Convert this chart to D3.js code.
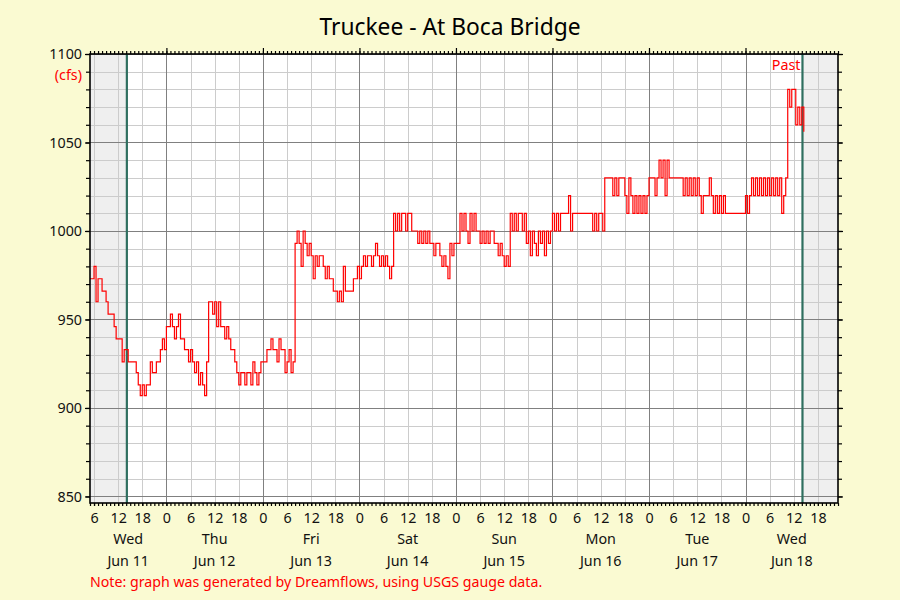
<!DOCTYPE html>
<html><head><meta charset="utf-8">
<script src="https://cdn.jsdelivr.net/npm/d3@7"></script>
<style>
body{margin:0;background:#fafad2;}
svg{display:block;font-family:"Noto Sans",sans-serif;}
</style>
</head><body>
<svg id="chart" width="900" height="600"></svg>
<script>
// ---------- data ----------
const chartTitle = "Truckee - At Boca Bridge";
const unitLabel = "(cfs)";
const noteText = "Note: graph was generated by Dreamflows, using USGS gauge data.";
const pastLabel = "Past";
const axisDomain = ["2025-06-11T05:00:00Z", "2025-06-18T23:00:00Z"];
const pastWindow = ["2025-06-11T14:10:00Z", "2025-06-18T14:10:00Z"];
const seriesStart = "2025-06-11T05:00:00Z";
const stepMinutes = 30;
const yDomain = [846.3, 1100];
const yMajorTicks = [850, 900, 950, 1000, 1050, 1100];
const yMinorStep = 10;
const hourLabelStep = 6;
const flow = [
 973, 973, 980, 960, 973, 973, 966, 966, 960, 953,
 953, 953, 946, 939, 939, 939, 926, 933, 933, 926,
 926, 926, 926, 920, 913, 907, 913, 907, 913, 913,
 926, 920, 920, 926, 926, 933, 939, 933, 946, 946,
 953, 946, 939, 946, 953, 939, 939, 933, 933, 926,
 933, 926, 920, 926, 913, 920, 913, 907, 926, 960,
 960, 953, 960, 946, 960, 946, 946, 939, 946, 939,
 933, 933, 926, 920, 913, 920, 920, 913, 920, 920,
 913, 926, 920, 913, 920, 926, 926, 926, 933, 933,
 939, 933, 933, 926, 939, 933, 933, 920, 926, 933,
 920, 926, 993, 1000, 993, 980, 1000, 993, 986, 993,
 986, 973, 986, 980, 986, 986, 980, 973, 980, 973,
 973, 966, 966, 960, 966, 960, 980, 966, 966, 966,
 966, 973, 973, 980, 973, 980, 986, 980, 986, 986,
 980, 986, 993, 986, 980, 986, 980, 986, 980, 973,
 980, 1010, 1000, 1010, 1000, 1010, 1010, 1000, 1010, 1010,
 1000, 1000, 1000, 993, 1000, 993, 1000, 993, 1000, 993,
 993, 986, 993, 993, 986, 980, 986, 980, 973, 993,
 986, 993, 993, 993, 1010, 1000, 1010, 1000, 993, 1010,
 1000, 1010, 1000, 1000, 993, 1000, 993, 1000, 993, 1000,
 1000, 993, 993, 986, 993, 986, 980, 986, 980, 1010,
 1000, 1010, 1000, 1010, 1010, 1000, 1010, 993, 1000, 986,
 1000, 993, 986, 1000, 993, 1000, 986, 1000, 993, 1000,
 1010, 1000, 1010, 1000, 1010, 1010, 1010, 1010, 1020, 1000,
 1010, 1010, 1010, 1010, 1010, 1010, 1010, 1010, 1010, 1010,
 1000, 1010, 1000, 1010, 1010, 1000, 1030, 1030, 1030, 1030,
 1020, 1030, 1020, 1030, 1030, 1030, 1020, 1010, 1030, 1020,
 1010, 1020, 1010, 1020, 1010, 1020, 1010, 1020, 1030, 1030,
 1030, 1020, 1030, 1040, 1030, 1040, 1020, 1040, 1030, 1030,
 1030, 1030, 1030, 1030, 1030, 1020, 1030, 1020, 1030, 1020,
 1030, 1020, 1030, 1020, 1010, 1020, 1020, 1020, 1030, 1020,
 1010, 1020, 1010, 1020, 1010, 1020, 1010, 1010, 1010, 1010,
 1010, 1010, 1010, 1010, 1010, 1010, 1020, 1010, 1020, 1030,
 1020, 1030, 1020, 1030, 1020, 1030, 1020, 1030, 1020, 1030,
 1020, 1030, 1020, 1030, 1010, 1020, 1030, 1080, 1070, 1080,
 1080, 1060, 1070, 1060, 1070, 1056
];

// ---------- layout ----------
const W = 900, H = 600;
const plot = {left: 90, right: 838, top: 54, bottom: 503};
const svg = d3.select("#chart");
const px = v => Math.round(v) + 0.5;
const FS = 14.3;

const t0 = new Date(seriesStart);
const series = flow.map((v, i) => ({t: new Date(+t0 + i * stepMinutes * 60000), v}));

const x = d3.scaleUtc().domain(axisDomain.map(d => new Date(d))).range([plot.left, plot.right]);
const y = d3.scaleLinear().domain(yDomain).range([plot.bottom, plot.top]);

// background
svg.append("rect").attr("width", W).attr("height", H).attr("fill", "#fafad2");
svg.append("rect").attr("x", plot.left).attr("y", plot.top)
  .attr("width", plot.right - plot.left).attr("height", plot.bottom - plot.top).attr("fill", "#ffffff");

// shaded areas outside the past window
const pw = pastWindow.map(d => new Date(d));
svg.append("rect").attr("x", plot.left).attr("y", plot.top)
  .attr("width", x(pw[0]) - plot.left).attr("height", plot.bottom - plot.top).attr("fill", "#efefef");
svg.append("rect").attr("x", x(pw[1])).attr("y", plot.top)
  .attr("width", plot.right - x(pw[1])).attr("height", plot.bottom - plot.top).attr("fill", "#efefef");

// grid
const grid = svg.append("g");
const sixHours = d3.utcHour.every(hourLabelStep).range(x.domain()[0], x.domain()[1]);
const yMinor = d3.range(850, 1100 + 0.1, yMinorStep);
grid.selectAll(".vl").data(sixHours.filter(d => d.getUTCHours() !== 0)).join("line")
  .attr("x1", d => px(x(d))).attr("x2", d => px(x(d)))
  .attr("y1", plot.top).attr("y2", plot.bottom).attr("stroke", "#cccccc");
grid.selectAll(".hl").data(yMinor.filter(v => v % 50 !== 0)).join("line")
  .attr("y1", d => px(y(d))).attr("y2", d => px(y(d)))
  .attr("x1", plot.left).attr("x2", plot.right).attr("stroke", "#cccccc");
grid.selectAll(".vd").data(sixHours.filter(d => d.getUTCHours() === 0)).join("line")
  .attr("x1", d => px(x(d))).attr("x2", d => px(x(d)))
  .attr("y1", plot.top).attr("y2", plot.bottom).attr("stroke", "#808080");
grid.selectAll(".hd").data(yMajorTicks).join("line")
  .attr("y1", d => px(y(d))).attr("y2", d => px(y(d)))
  .attr("x1", plot.left).attr("x2", plot.right).attr("stroke", "#808080");

// past window boundaries
svg.selectAll(".pl").data(pw).join("line")
  .attr("x1", d => x(d)).attr("x2", d => x(d))
  .attr("y1", plot.top).attr("y2", plot.bottom)
  .attr("stroke", "#2f6f5f").attr("stroke-width", 2.2);

// data line
svg.append("path").datum(series)
  .attr("d", d3.line().curve(d3.curveStepAfter).x(d => x(d.t)).y(d => y(d.v)))
  .attr("fill", "none").attr("stroke", "#ff0000").attr("stroke-width", 1.2);

// border
svg.append("rect").attr("x", plot.left).attr("y", plot.top)
  .attr("width", plot.right - plot.left).attr("height", plot.bottom - plot.top)
  .attr("fill", "none").attr("stroke", "#000").attr("stroke-width", 1.6);

// axes
function styleAxis(g) {
  g.select(".domain").remove();
  g.selectAll(".tick line").attr("stroke", "#000").attr("stroke-width", 1.2);
  g.selectAll("text").attr("fill", "#111").attr("font-size", FS).attr("font-family", '"Noto Sans",sans-serif');
}
const hours = d3.utcHour.every(1).range(x.domain()[0], +x.domain()[1] + 1);
const midnights = d3.utcDay.range(x.domain()[0], x.domain()[1]);

svg.append("g").attr("transform", `translate(${plot.left},0)`)
  .call(d3.axisLeft(y).tickValues(yMinor).tickSize(4).tickFormat("")).call(styleAxis);
svg.append("g").attr("transform", `translate(${plot.left},0)`)
  .call(d3.axisLeft(y).tickValues(yMajorTicks).tickSize(5).tickPadding(3).tickFormat(d3.format("d"))).call(styleAxis);
svg.append("g").attr("transform", `translate(${plot.right},0)`)
  .call(d3.axisRight(y).tickValues(yMinor).tickSize(4).tickFormat("")).call(styleAxis);
svg.append("g").attr("transform", `translate(${plot.right},0)`)
  .call(d3.axisRight(y).tickValues(yMajorTicks).tickSize(5).tickFormat("")).call(styleAxis);

svg.append("g").attr("transform", `translate(0,${plot.top})`)
  .call(d3.axisTop(x).tickValues(hours).tickSize(3).tickFormat("")).call(styleAxis);
svg.append("g").attr("transform", `translate(0,${plot.top})`)
  .call(d3.axisTop(x).tickValues(midnights).tickSize(6).tickFormat("")).call(styleAxis);
svg.append("g").attr("transform", `translate(0,${plot.bottom})`)
  .call(d3.axisBottom(x).tickValues(hours).tickSize(3).tickFormat("")).call(styleAxis);
svg.append("g").attr("transform", `translate(0,${plot.bottom})`)
  .call(d3.axisBottom(x).tickValues(sixHours).tickSize(3).tickPadding(7).tickFormat(d3.utcFormat("%-H"))).call(styleAxis);

// day labels centred in the visible part of each day
const days = d3.utcDay.range(d3.utcDay.floor(x.domain()[0]), x.domain()[1]);
const dayCenters = days.map(d => {
  const a = Math.max(+d, +x.domain()[0]);
  const b = Math.min(+d3.utcDay.offset(d, 1), +x.domain()[1]);
  return {d, cx: (x(new Date(a)) + x(new Date(b))) / 2};
});
svg.selectAll(".dn").data(dayCenters).join("text")
  .attr("x", d => d.cx).attr("y", 544).attr("text-anchor", "middle")
  .attr("font-size", FS).attr("fill", "#111").text(d => d3.utcFormat("%a")(d.d));
svg.selectAll(".dd").data(dayCenters).join("text")
  .attr("x", d => d.cx).attr("y", 566).attr("text-anchor", "middle")
  .attr("font-size", FS).attr("fill", "#111").text(d => d3.utcFormat("%b %-d")(d.d));

// texts
svg.append("text").attr("x", 450).attr("y", 35).attr("text-anchor", "middle")
  .attr("font-size", 22.8).attr("fill", "#000").text(chartTitle);
svg.append("text").attr("x", plot.left - 8).attr("y", 80).attr("text-anchor", "end")
  .attr("font-size", FS).attr("fill", "#ff0000").text(unitLabel);
svg.append("text").attr("x", x(pw[1]) - 2).attr("y", 70).attr("text-anchor", "end")
  .attr("font-size", FS).attr("fill", "#ff0000").text(pastLabel);
svg.append("text").attr("x", plot.left).attr("y", 587)
  .attr("font-size", 14.2).attr("fill", "#ff0000").text(noteText);
</script>
</body></html>
